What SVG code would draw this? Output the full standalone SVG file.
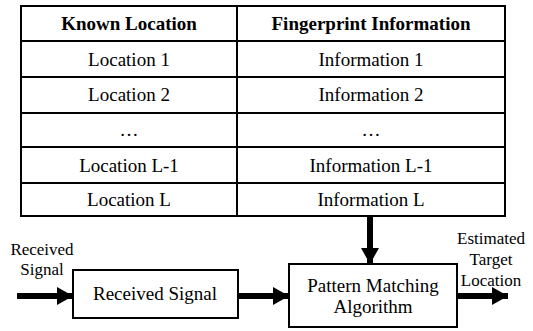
<svg xmlns="http://www.w3.org/2000/svg" width="533" height="331" viewBox="0 0 533 331" font-family="'Liberation Serif', 'Times New Roman', Times, 'DejaVu Serif', serif">
<style>
text{font-family:'Liberation Serif','Times New Roman',Times,'DejaVu Serif',serif;font-size:19px;fill:#000;text-anchor:middle}
.b{font-weight:bold}
.s{font-size:17px}
.grid{stroke:#000;stroke-width:2;fill:none}
.box{stroke:#000;stroke-width:2;fill:#fff}
.conn{stroke:#000;stroke-width:6;fill:none}
</style>
<defs>
<marker id="ah" markerUnits="userSpaceOnUse" markerWidth="16" markerHeight="18" refX="16" refY="9" orient="auto">
<path d="M0,0 L16,9 L0,18 Z" fill="#000"/>
</marker>
</defs>
<g id="table">
<rect class="grid" x="21" y="6" width="484" height="210"/>
<line class="grid" x1="237" y1="6" x2="237" y2="216"/>
<line class="grid" x1="21" y1="41" x2="505" y2="41"/>
<line class="grid" x1="21" y1="77" x2="505" y2="77"/>
<line class="grid" x1="21" y1="113" x2="505" y2="113"/>
<line class="grid" x1="21" y1="147" x2="505" y2="147"/>
<line class="grid" x1="21" y1="183" x2="505" y2="183"/>
<text class="b" x="129" y="30">Known Location</text>
<text class="b" x="371" y="30">Fingerprint Information</text>
<text x="129" y="66">Location 1</text>
<text x="371" y="66">Information 1</text>
<text x="129" y="101">Location 2</text>
<text x="371" y="101">Information 2</text>
<text x="129" y="136">…</text>
<text x="371" y="136">…</text>
<text x="129" y="172">Location L-1</text>
<text x="371" y="172">Information L-1</text>
<text x="129" y="206">Location L</text>
<text x="371" y="206">Information L</text>
</g>
<g id="received">
<rect class="box" x="73" y="270" width="165" height="48"/>
<text x="155" y="300">Received Signal</text>
</g>
<g id="pattern">
<rect class="box" x="289" y="264" width="168" height="63"/>
<text x="373" y="292">Pattern Matching</text>
<text x="373" y="313">Algorithm</text>
</g>
<g id="labels">
<text class="s" x="42" y="255">Received</text>
<text class="s" x="42" y="275">Signal</text>
<text class="s" x="491" y="244">Estimated</text>
<text class="s" x="491" y="265">Target</text>
<text class="s" x="491" y="286">Location</text>
</g>
<g id="connectors">
<line class="conn" x1="17" y1="296" x2="73" y2="296" marker-end="url(#ah)"/>
<line class="conn" x1="238" y1="296" x2="289" y2="296" marker-end="url(#ah)"/>
<line class="conn" x1="458" y1="296" x2="508" y2="296" marker-end="url(#ah)"/>
<line class="conn" x1="370" y1="217" x2="370" y2="264" marker-end="url(#ah)"/>
</g>
</svg>
